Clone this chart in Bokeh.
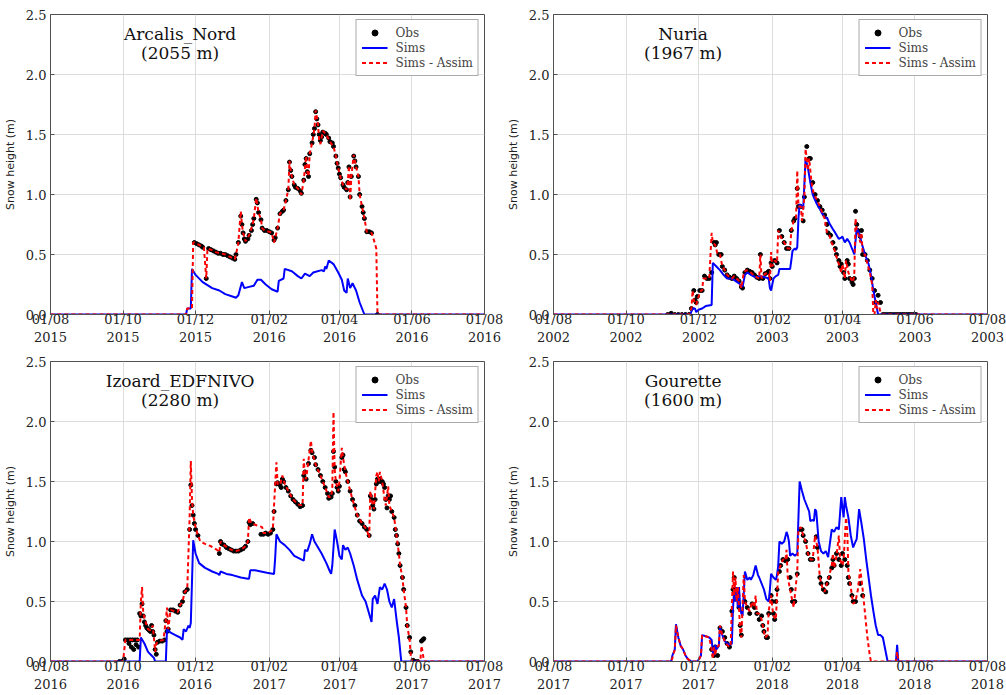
from bokeh.plotting import figure
from bokeh.layouts import gridplot
from bokeh.models import (Range1d, FixedTicker, Label, NumeralTickFormatter,
                          Legend, LegendItem)
from bokeh.embed import file_html
from bokeh.resources import INLINE

# ---------------- axis data ----------------
tick_days = [0, 61, 122, 184, 243, 304, 365]          # days since 1 August
tick_months = ["01/08", "01/10", "01/12", "01/02", "01/04", "01/06", "01/08"]
y_ticks = [0.0, 0.5, 1.0, 1.5, 2.0, 2.5]

stations = ["Arcalis_Nord", "Nuria", "Izoard_EDFNIVO", "Gourette"]
elevations = ["(2055 m)", "(1967 m)", "(2280 m)", "(1600 m)"]
years_arcalis = [2015, 2015, 2015, 2016, 2016, 2016, 2016]
years_nuria = [2002, 2002, 2002, 2003, 2003, 2003, 2003]
years_izoard = [2016, 2016, 2016, 2017, 2017, 2017, 2017]
years_gourette = [2017, 2017, 2017, 2018, 2018, 2018, 2018]

# ---------------- Arcalis_Nord ----------------
arcalis_obs = [(121,0.6),(123,0.59),(125,0.58),(127,0.57),(128,0.56),(131,0.3),(133,0.55),(135,0.54),
    (137,0.53),(139,0.52),(141,0.51),(143,0.51),(145,0.5),(147,0.5),(149,0.49),(151,0.48),(153,0.47),
    (155,0.46),(156,0.5),(158,0.6),(160,0.82),(161,0.75),(162,0.68),(163,0.63),(164,0.61),(166,0.63),
    (167,0.66),(169,0.7),(170,0.75),(171,0.8),(173,0.96),(174,0.93),(175,0.85),(177,0.79),(178,0.72),
    (180,0.7),(182,0.7),(184,0.69),(186,0.68),(188,0.62),(189,0.64),(191,0.72),(193,0.84),(195,0.86),
    (196,0.87),(198,0.95),(200,1.04),(201,1.27),(202,1.2),(203,1.15),(205,1.08),(206,1.06),(208,1.05),
    (210,1.03),(211,1.01),(213,1.12),(214,1.25),(215,1.3),(216,1.19),(217,1.15),(218,1.34),(220,1.43),
    (221,1.5),(222,1.55),(223,1.69),(224,1.63),(225,1.58),(226,1.5),(227,1.45),(228,1.48),(229,1.52),
    (231,1.51),(232,1.5),(234,1.47),(235,1.44),(237,1.43),(238,1.4),(240,1.32),(241,1.26),(242,1.22),
    (243,1.17),(244,1.14),(246,1.08),(247,1.06),(249,1.04),(250,1.1),(251,1.23),(252,0.98),(253,1.15),
    (255,1.32),(256,1.28),(257,1.23),(259,1.15),(260,1.0),(262,0.9),(263,0.85),(264,0.8),(266,0.69),
    (268,0.69),(270,0.68),(275,0.0)]
arcalis_sims = [(0,0),(114,0),(115,0.05),(118,0.05),(119,0.38),(122,0.33),(128,0.27),(136,0.22),
    (142,0.2),(147,0.17),(153,0.15),(156,0.14),(158,0.16),(161,0.27),(163,0.22),(167,0.23),(171,0.24),
    (174,0.29),(177,0.29),(181,0.25),(186,0.21),(191,0.19),(192,0.28),(196,0.3),(197,0.38),(203,0.36),
    (208,0.32),(211,0.3),(214,0.34),(218,0.32),(221,0.35),(228,0.37),(230,0.36),(231,0.4),(232,0.38),
    (234,0.45),(238,0.42),(242,0.35),(245,0.29),(247,0.2),(249,0.18),(250,0.3),(252,0.22),(254,0.26),
    (257,0.2),(260,0.1),(264,0.0),(365,0)]
arcalis_assim = [(0,0),(114,0),(115,0.05),(119,0.05),(120,0.6),(121,0.6),(123,0.59),(125,0.58),
    (127,0.57),(129,0.56),(131,0.3),(132,0.55),(135,0.54),(139,0.52),(143,0.51),(147,0.5),(151,0.48),
    (155,0.46),(156,0.5),(158,0.6),(160,0.86),(161,0.75),(162,0.68),(164,0.61),(167,0.66),(170,0.75),
    (171,0.8),(173,0.97),(175,0.85),(177,0.79),(178,0.72),(180,0.7),(184,0.69),(186,0.68),(188,0.6),
    (189,0.64),(191,0.72),(193,0.84),(196,0.87),(198,0.95),(200,1.04),(201,1.28),(202,1.2),(203,1.15),
    (205,1.08),(208,1.05),(211,1.0),(213,1.12),(215,1.32),(216,1.19),(217,1.15),(218,1.34),(220,1.43),
    (222,1.55),(223,1.7),(225,1.58),(226,1.45),(227,1.42),(229,1.53),(232,1.5),(235,1.44),(238,1.4),
    (240,1.32),(242,1.22),(244,1.14),(246,1.08),(249,1.04),(250,1.1),(251,1.24),(252,0.95),(253,1.15),
    (255,1.33),(257,1.23),(259,1.15),(260,1.0),(262,0.9),(264,0.8),(266,0.69),(270,0.68),(272,0.62),
    (274,0.55),(275,0.0),(365,0)]

# ---------------- Nuria ----------------
nuria_obs = [(96,0),(99,0.01),(102,0),(105,0),(108,0),(111,0),(114,0.0),(116,0.05),(118,0.2),(119,0.12),
    (120,0.1),(121,0.15),(123,0.2),(125,0.2),(127,0.32),(129,0.3),(131,0.3),(133,0.35),(135,0.6),
    (136,0.58),(137,0.6),(139,0.5),(141,0.5),(142,0.4),(144,0.37),(146,0.33),(148,0.31),(150,0.3),
    (152,0.32),(154,0.3),(156,0.28),(158,0.23),(159,0.22),(161,0.35),(163,0.37),(165,0.36),(167,0.35),
    (169,0.33),(171,0.31),(173,0.3),(174,0.5),(176,0.3),(178,0.34),(180,0.35),(181,0.36),(182,0.3),
    (183,0.43),(184,0.4),(186,0.45),(188,0.43),(190,0.7),(192,0.65),(194,0.6),(196,0.55),(198,0.55),
    (200,0.7),(202,0.78),(203,0.8),(205,1.05),(206,0.9),(208,0.9),(210,0.78),(211,0.98),(213,1.4),
    (215,1.3),(216,1.3),(218,1.1),(220,1.0),(222,0.95),(224,0.9),(226,0.87),(228,0.83),(230,0.75),
    (231,0.68),(233,0.66),(235,0.6),(237,0.55),(238,0.5),(240,0.45),(241,0.4),(242,0.42),(244,0.35),
    (245,0.3),(247,0.45),(248,0.42),(249,0.3),(251,0.27),(252,0.25),(253,0.3),(254,0.86),(255,0.75),
    (256,0.7),(258,0.65),(259,0.7),(260,0.5),(262,0.5),(264,0.45),(266,0.37),(268,0.3),(270,0.2),
    (271,0.1),(273,0.16),(275,0.1),(277,0.0),(279,0),(281,0),(283,0),(285,0),(287,0),(289,0),(291,0),
    (293,0),(295,0),(297,0),(299,0),(301,0),(303,0),(305,0)]
nuria_sims = [(0,0),(115,0),(117,0.05),(119,0.05),(120,0.02),(122,0.04),(125,0.05),(128,0.07),
    (133,0.08),(134,0.43),(137,0.4),(140,0.37),(143,0.33),(146,0.3),(150,0.3),(153,0.28),(156,0.26),
    (159,0.23),(161,0.33),(163,0.35),(166,0.33),(170,0.31),(174,0.32),(178,0.31),(181,0.3),(182,0.22),
    (183,0.2),(185,0.3),(187,0.32),(189,0.33),(190,0.38),(195,0.38),(199,0.38),(200,0.45),(201,0.53),
    (203,0.55),(204,0.54),(205,0.56),(206,0.8),(207,0.92),(209,0.9),(210,0.88),(212,1.3),(214,1.22),
    (216,1.1),(218,1.0),(221,0.93),(224,0.88),(226,0.84),(229,0.8),(230,0.81),(232,0.76),(235,0.71),
    (237,0.68),(240,0.63),(242,0.64),(243,0.65),(245,0.6),(247,0.63),(249,0.6),(251,0.55),(253,0.5),
    (255,0.72),(257,0.68),(259,0.6),(262,0.5),(265,0.42),(267,0.33),(269,0.2),(271,0.1),(273,0.0),
    (365,0)]
nuria_assim = [(0,0),(114,0),(116,0.05),(117,0.2),(118,0.12),(120,0.08),(122,0.15),(124,0.2),
    (125,0.2),(126,0.3),(128,0.3),(131,0.3),(133,0.68),(134,0.6),(136,0.58),(138,0.5),(140,0.5),
    (142,0.4),(144,0.37),(146,0.33),(148,0.31),(150,0.3),(152,0.32),(154,0.3),(156,0.28),(158,0.22),
    (160,0.35),(162,0.37),(165,0.36),(168,0.33),(171,0.31),(173,0.3),(174,0.5),(175,0.3),(178,0.34),
    (181,0.35),(182,0.28),(183,0.52),(184,0.4),(186,0.45),(188,0.43),(189,0.7),(191,0.65),(194,0.6),
    (197,0.55),(199,0.55),(200,0.7),(202,0.78),(204,0.8),(205,1.2),(206,0.9),(208,0.9),(209,0.78),
    (211,0.98),(212,1.38),(214,1.2),(215,1.3),(217,1.1),(219,1.0),(222,0.95),(224,0.9),(226,0.85),
    (228,0.8),(230,0.68),(232,0.66),(234,0.6),(236,0.55),(238,0.48),(240,0.42),(242,0.35),(243,0.42),
    (245,0.3),(246,0.45),(248,0.35),(250,0.3),(252,0.27),(253,0.35),(254,0.8),(255,0.7),(257,0.65),
    (258,0.6),(259,0.68),(260,0.5),(262,0.5),(264,0.42),(266,0.35),(268,0.25),(269,0.0),(270,0.0),
    (271,0.12),(272,0.05),(273,0.1),(275,0.02),(276,0),(365,0)]

# ---------------- Izoard_EDFNIVO ----------------
izoard_obs = [(58,0),(60,0),(62,0.02),(63,0.18),(65,0.18),(66,0.15),(67,0.18),(68,0.12),(69,0.18),
    (70,0.1),(71,0.18),(72,0.14),(73,0.18),(74,0.12),(75,0.4),(76,0.38),(77,0.48),(78,0.38),(79,0.33),
    (80,0.3),(81,0.28),(82,0.27),(83,0.26),(84,0.25),(85,0.3),(86,0.25),(87,0.22),(88,0.1),(89,0.06),
    (90,0.16),(92,0.17),(94,0.17),(96,0.18),(97,0.34),(98,0.25),(99,0.27),(101,0.43),(103,0.43),
    (105,0.42),(107,0.41),(109,0.47),(111,0.5),(113,0.58),(115,0.6),(117,1.1),(118,1.47),(119,1.3),
    (120,1.22),(121,1.15),(122,1.1),(124,1.05),(142,0.9),(143,1.0),(144,0.98),(146,0.97),(148,0.95),
    (150,0.94),(152,0.93),(154,0.92),(156,0.92),(158,0.92),(160,0.93),(162,0.94),(164,0.96),(166,1.0),
    (167,1.16),(168,1.14),(170,1.15),(177,1.06),(179,1.06),(181,1.07),(183,1.06),(185,1.07),(187,1.1),
    (188,1.25),(190,1.48),(191,1.49),(193,1.47),(194,1.45),(195,1.52),(196,1.5),(198,1.45),(200,1.42),
    (202,1.38),(204,1.35),(206,1.33),(208,1.31),(210,1.29),(212,1.3),(213,1.55),(214,1.58),(215,1.52),
    (217,1.65),(219,1.76),(220,1.74),(222,1.7),(223,1.64),(225,1.6),(227,1.55),(229,1.5),(231,1.45),
    (233,1.4),(234,1.36),(236,1.37),(237,1.4),(238,1.75),(239,1.62),(240,1.5),(241,1.45),(242,1.42),
    (243,1.46),(245,1.7),(246,1.72),(247,1.6),(248,1.58),(250,1.5),(252,1.42),(254,1.35),(256,1.3),
    (258,1.22),(260,1.17),(262,1.15),(264,1.12),(266,1.1),(268,1.05),(269,1.38),(270,1.35),(271,1.3),
    (272,1.27),(273,1.35),(274,1.48),(275,1.52),(276,1.5),(277,1.52),(278,1.5),(279,1.5),(280,1.48),
    (281,1.45),(282,1.35),(283,1.28),(284,1.38),(285,1.35),(286,1.38),(287,1.25),(289,1.2),(290,1.1),
    (291,1.05),(292,0.98),(293,0.9),(294,0.8),(296,0.7),(297,0.6),(299,0.45),(300,0.3),(302,0.2),
    (303,0.08),(305,0.01),(307,0.0),(309,0.0),(312,0.17),(313,0.18),(314,0.19)]
izoard_sims = [(0,0),(75,0),(76,0.2),(79,0.15),(82,0.08),(85,0.05),(87,0.03),(88,0.0),(97,0.0),
    (98,0.27),(101,0.24),(105,0.22),(109,0.2),(111,0.18),(112,0.27),(114,0.25),(116,0.3),(117,0.28),
    (118,0.32),(120,1.01),(122,0.9),(125,0.82),(130,0.78),(136,0.75),(141,0.73),(142,0.72),(143,0.75),
    (148,0.73),(153,0.72),(160,0.7),(166,0.69),(167,0.69),(168,0.76),(172,0.76),(177,0.75),(182,0.74),
    (188,0.73),(189,0.87),(190,1.06),(193,1.0),(197,0.97),(201,0.93),(205,0.88),(213,0.84),(214,0.93),
    (216,0.92),(218,0.98),(220,1.06),(222,1.0),(225,0.95),(228,0.9),(232,0.82),(235,0.75),(236,0.73),
    (237,0.8),(239,1.1),(241,1.0),(243,0.88),(245,0.85),(246,0.97),(248,0.93),(250,0.95),(252,0.9),
    (255,0.8),(258,0.68),(262,0.55),(265,0.5),(270,0.33),(271,0.52),(273,0.55),(275,0.48),(277,0.62),
    (279,0.6),(281,0.65),(283,0.6),(285,0.5),(287,0.45),(289,0.52),(291,0.35),(293,0.2),(295,0.0),
    (365,0)]
izoard_assim = [(0,0),(61,0),(63,0.18),(75,0.18),(76,0.5),(77,0.62),(78,0.4),(80,0.33),(82,0.27),
    (84,0.26),(86,0.3),(87,0.2),(88,0.08),(89,0.15),(91,0.17),(95,0.18),(97,0.35),(98,0.45),(99,0.27),
    (101,0.43),(104,0.42),(107,0.41),(109,0.47),(111,0.5),(113,0.58),(115,0.6),(117,1.2),(118,1.67),
    (119,1.35),(120,1.22),(122,1.12),(124,1.05),(126,1.0),(130,0.98),(135,0.96),(140,0.93),(142,0.91),
    (143,1.0),(146,0.97),(150,0.94),(155,0.92),(160,0.93),(164,0.96),(166,1.0),(167,1.2),(169,1.15),
    (172,1.14),(175,1.13),(178,1.12),(179,1.07),(183,1.07),(187,1.1),(188,1.3),(190,1.66),(191,1.48),
    (193,1.47),(195,1.55),(197,1.48),(200,1.42),(204,1.35),(208,1.31),(212,1.3),(213,1.69),(214,1.55),
    (215,1.52),(217,1.68),(219,1.84),(220,1.75),(223,1.64),(227,1.55),(231,1.45),(234,1.37),(236,1.37),
    (237,1.45),(238,2.08),(239,1.6),(240,1.5),(242,1.42),(243,1.5),(245,1.78),(246,1.7),(248,1.58),
    (250,1.5),(254,1.35),(258,1.22),(262,1.15),(266,1.1),(268,1.03),(269,1.42),(270,1.35),(272,1.27),
    (274,1.55),(275,1.58),(276,1.5),(277,1.58),(279,1.5),(281,1.35),(282,1.3),(284,1.46),(285,1.3),
    (287,1.25),(289,1.2),(291,1.05),(293,0.9),(294,0.8),(296,0.7),(297,0.6),(299,0.45),(300,0.3),
    (302,0.18),(303,0.05),(304,0.0),(311,0.0),(312,0.13),(313,0.08),(314,0.0),(365,0)]

# ---------------- Gourette ----------------
gourette_obs = [(133,0.1),(135,0.05),(136,0.12),(138,0.05),(140,0.28),(142,0.25),(144,0.2),(146,0.15),
    (148,0.12),(150,0.42),(151,0.6),(152,0.7),(153,0.52),(154,0.6),(155,0.55),(156,0.45),(157,0.3),
    (158,0.22),(161,0.5),(163,0.45),(165,0.4),(167,0.48),(169,0.45),(171,0.4),(173,0.35),(175,0.38),
    (176,0.3),(177,0.25),(179,0.2),(180,0.2),(181,0.4),(183,0.55),(184,0.5),(185,0.4),(186,0.35),
    (187,0.5),(188,0.6),(190,0.75),(191,0.8),(193,0.85),(195,0.84),(197,0.85),(199,0.7),(200,0.6),
    (201,0.5),(203,0.5),(205,0.73),(207,1.1),(209,1.1),(210,1.05),(212,1.0),(214,0.9),(216,0.85),
    (218,0.85),(221,1.04),(222,0.95),(224,0.7),(225,0.65),(227,0.6),(229,0.58),(230,0.65),(232,0.7),
    (234,0.78),(235,0.85),(236,0.8),(238,0.9),(240,0.85),(242,0.8),(243,0.9),(245,0.85),(247,0.8),
    (248,0.7),(249,0.65),(251,0.55),(252,0.5),(254,0.5),(258,0.65),(260,0.55)]
gourette_sims = [(0,0),(99,0),(100,0.05),(102,0.1),(103,0.31),(105,0.2),(107,0.13),(109,0.1),
    (111,0.05),(113,0.02),(116,0.0),(121,0.0),(123,0.03),(124,0.05),(125,0.22),(128,0.21),(131,0.2),
    (133,0.18),(134,0.08),(135,0.05),(136,0.14),(137,0.1),(139,0.13),(140,0.28),(142,0.22),(144,0.17),
    (146,0.15),(149,0.14),(150,0.15),(151,0.45),(152,0.6),(153,0.5),(154,0.62),(155,0.45),(156,0.62),
    (157,0.45),(158,0.4),(159,0.38),(161,0.75),(163,0.68),(165,0.7),(166,0.68),(168,0.72),(170,0.8),
    (172,0.72),(173,0.7),(175,0.65),(177,0.6),(179,0.52),(181,0.5),(182,0.6),(183,0.73),(185,0.7),
    (187,0.68),(188,0.72),(189,0.8),(190,1.0),(192,0.98),(194,1.0),(196,1.08),(197,1.05),(198,1.0),
    (199,0.88),(201,0.9),(203,0.88),(205,0.9),(206,1.2),(207,1.5),(209,1.42),(211,1.35),(213,1.3),
    (215,1.25),(216,1.17),(218,1.18),(219,1.17),(220,1.27),(221,1.25),(223,1.0),(225,0.92),(227,0.9),
    (229,0.92),(231,0.87),(232,0.95),(234,1.1),(236,1.08),(238,1.12),(240,1.1),(242,1.37),(244,1.2),
    (245,1.37),(246,1.3),(248,1.2),(250,1.05),(252,0.95),(254,1.0),(255,1.02),(257,1.27),(259,1.15),
    (261,1.02),(263,0.85),(265,0.7),(267,0.55),(269,0.42),(271,0.3),(273,0.22),(275,0.22),(277,0.2),
    (279,0.1),(281,0.0),(288,0.0),(289,0.14),(290,0.0),(365,0)]
gourette_assim = [(0,0),(99,0),(100,0.03),(102,0.1),(103,0.3),(105,0.2),(107,0.13),(109,0.1),
    (111,0.05),(113,0.02),(116,0.0),(121,0.0),(123,0.03),(124,0.05),(125,0.22),(128,0.21),(131,0.2),
    (133,0.1),(134,0.02),(135,0.12),(136,0.05),(137,0.12),(139,0.13),(140,0.3),(142,0.22),(144,0.17),
    (146,0.14),(148,0.12),(149,0.14),(150,0.45),(151,0.75),(152,0.55),(153,0.7),(154,0.5),(155,0.62),
    (156,0.45),(157,0.25),(158,0.2),(160,0.72),(161,0.5),(163,0.45),(165,0.42),(167,0.5),(169,0.45),
    (170,0.55),(171,0.4),(173,0.4),(175,0.35),(177,0.25),(178,0.2),(180,0.22),(181,0.42),(183,0.55),
    (184,0.45),(185,0.38),(187,0.35),(188,0.55),(189,0.75),(191,0.8),(193,0.85),(195,0.84),(196,0.93),
    (197,0.7),(199,0.6),(200,0.55),(202,0.45),(203,0.55),(205,0.75),(206,1.1),(208,1.12),(210,1.05),
    (212,1.0),(214,0.9),(216,0.85),(218,0.85),(220,1.05),(222,0.95),(224,0.7),(226,0.62),(228,0.58),
    (230,0.65),(232,0.72),(234,0.8),(235,0.9),(236,0.78),(238,0.88),(240,1.05),(241,0.85),(243,0.8),
    (244,0.85),(246,1.2),(247,1.1),(248,0.75),(250,0.62),(251,0.55),(252,0.48),(254,0.5),(256,0.6),
    (258,0.77),(260,0.6),(262,0.4),(264,0.2),(266,0.05),(267,0.0),(288,0.0),(289,0.08),(290,0.0),
    (365,0)]

SERIF = "DejaVu Serif"
FRAME = "#505050"


def make_panel(name, elev, years, obs, sims, assim):
    p = figure(width=503, height=347, x_range=Range1d(0, 365), y_range=Range1d(0, 2.5),
               output_backend="svg", toolbar_location=None,
               min_border_left=47, min_border_right=19, min_border_top=14, min_border_bottom=33)
    p.background_fill_color = "white"
    p.border_fill_color = "white"
    p.outline_line_color = FRAME
    p.outline_line_width = 1

    ox, oy = zip(*obs)
    sx, sy = zip(*sims)
    ax, ay = zip(*assim)
    r_obs = p.scatter(list(ox), list(oy), size=4, color="black")
    r_sims = p.line(list(sx), list(sy), color="#0000ff", line_width=2)
    r_assim = p.line(list(ax), list(ay), color="#ff0000", line_width=2, line_dash="4 3")

    legend = Legend(items=[LegendItem(label="Obs", renderers=[r_obs]),
                           LegendItem(label="Sims", renderers=[r_sims]),
                           LegendItem(label="Sims - Assim", renderers=[r_assim])],
                    location="top_right")
    legend.margin = 5
    legend.padding = 5
    legend.spacing = 0
    legend.glyph_width = 26
    legend.glyph_height = 15
    legend.label_height = 15
    legend.label_standoff = 8
    legend.label_text_font = SERIF
    legend.label_text_font_size = "12px"
    legend.border_line_color = "#555555"
    legend.border_line_width = 1
    legend.background_fill_color = "white"
    legend.background_fill_alpha = 1.0
    p.add_layout(legend)

    p.xaxis.ticker = FixedTicker(ticks=tick_days)
    p.xaxis.major_label_overrides = {d: f"{m}\n{y}" for d, m, y in zip(tick_days, tick_months, years)}
    p.yaxis.ticker = FixedTicker(ticks=y_ticks)
    p.yaxis.formatter = NumeralTickFormatter(format="0.0")
    p.yaxis.axis_label = "Snow height (m)"
    p.yaxis.axis_label_text_font = "DejaVu Sans"
    p.yaxis.axis_label_text_font_style = "normal"
    p.yaxis.axis_label_text_font_size = "11px"
    p.yaxis.axis_label_text_color = "#222222"
    p.yaxis.axis_label_standoff = 6
    for ax_ in (p.xaxis, p.yaxis):
        ax_.major_label_text_font = SERIF
        ax_.major_label_text_font_size = "13px"
        ax_.major_label_text_color = "#222222"
        ax_.axis_line_color = FRAME
        ax_.major_tick_in = 4
        ax_.major_tick_out = 0
        ax_.major_tick_line_color = FRAME
        ax_.minor_tick_line_color = None
    p.xaxis.major_label_standoff = -3
    p.yaxis.major_label_standoff = 4

    p.xgrid.grid_line_color = "#dddddd"
    p.ygrid.grid_line_color = "#dddddd"

    p.add_layout(Label(x=109, y=2.34, text=name, text_align="center", text_baseline="middle",
                       text_font=SERIF, text_font_size="17px", text_color="#111111"))
    p.add_layout(Label(x=109, y=2.18, text=elev, text_align="center", text_baseline="middle",
                       text_font=SERIF, text_font_size="17px", text_color="#111111"))
    return p


p1 = make_panel(stations[0], elevations[0], years_arcalis, arcalis_obs, arcalis_sims, arcalis_assim)
p2 = make_panel(stations[1], elevations[1], years_nuria, nuria_obs, nuria_sims, nuria_assim)
p3 = make_panel(stations[2], elevations[2], years_izoard, izoard_obs, izoard_sims, izoard_assim)
p4 = make_panel(stations[3], elevations[3], years_gourette, gourette_obs, gourette_sims, gourette_assim)

grid = gridplot([[p1, p2], [p3, p4]], toolbar_location=None)

open("out.html", "w").write(file_html(grid, INLINE))
